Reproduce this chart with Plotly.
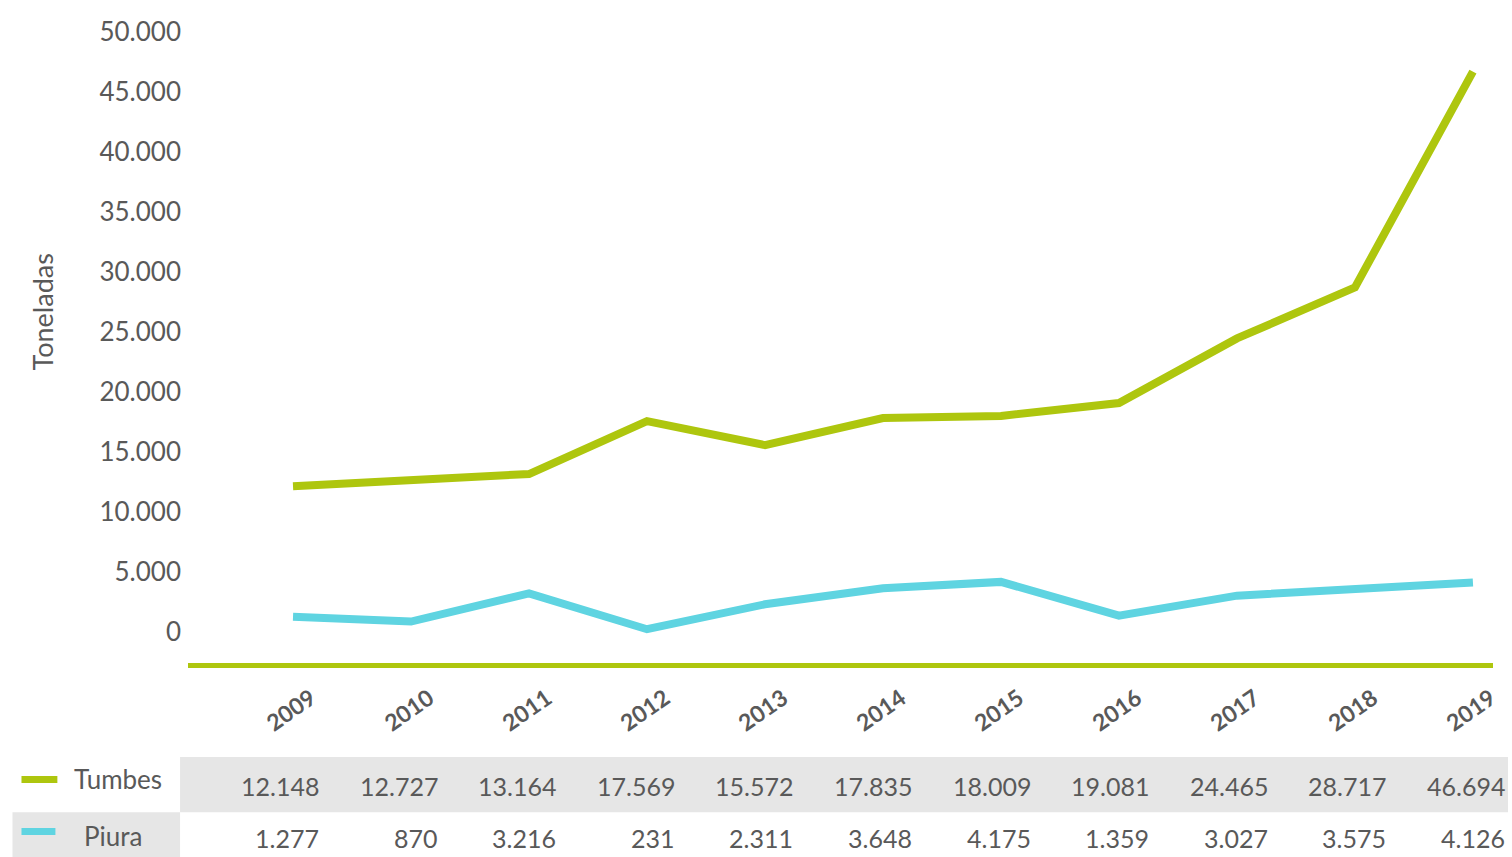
import plotly.graph_objects as go

years = ["2009", "2010", "2011", "2012", "2013", "2014", "2015", "2016", "2017", "2018", "2019"]
tumbes = [12148, 12727, 13164, 17569, 15572, 17835, 18009, 19081, 24465, 28717, 46694]
piura = [1277, 870, 3216, 231, 2311, 3648, 4175, 1359, 3027, 3575, 4126]
series_names = ["Tumbes", "Piura"]
y_ticks = [0, 5000, 10000, 15000, 20000, 25000, 30000, 35000, 40000, 45000, 50000]

GREEN = "#AEC60E"
CYAN = "#5FD4E1"
GRAY = "#595959"
CELL = "#E6E6E6"
FONT = "Lato"

xs = list(range(len(years)))

def fmt(v):
    return f"{v:,}".replace(",", ".")

fig = go.Figure()
fig.add_trace(go.Scatter(x=xs, y=tumbes, mode="lines", name=series_names[0],
                         line=dict(color=GREEN, width=8)))
fig.add_trace(go.Scatter(x=xs, y=piura, mode="lines", name=series_names[1],
                         line=dict(color=CYAN, width=8)))

# Data table backgrounds
fig.add_shape(type="rect", xref="paper", yref="paper", x0=-0.0061, x1=1.0115,
              y0=-0.232, y1=-0.146, fillcolor=CELL, line=dict(width=0), layer="below")
fig.add_shape(type="rect", xref="paper", yref="paper", x0=-0.1345, x1=-0.0061,
              y0=-0.302, y1=-0.232, fillcolor=CELL, line=dict(width=0), layer="below")
# Legend keys
fig.add_shape(type="rect", xref="paper", yref="paper", x0=-0.1276, x1=-0.1001,
              y0=-0.1866, y1=-0.1757, fillcolor=GREEN, line=dict(width=0))
fig.add_shape(type="rect", xref="paper", yref="paper", x0=-0.1276, x1=-0.1016,
              y0=-0.2675, y1=-0.2566, fillcolor=CYAN, line=dict(width=0))

annotations = [
    dict(text=series_names[0], xref="paper", yref="paper", x=-0.0535, y=-0.180,
         xanchor="center", yanchor="middle", showarrow=False,
         font=dict(family=FONT, size=26, color=GRAY)),
    dict(text=series_names[1], xref="paper", yref="paper", x=-0.0573, y=-0.2695,
         xanchor="center", yanchor="middle", showarrow=False,
         font=dict(family=FONT, size=26, color=GRAY)),
    dict(text="Toneladas", xref="paper", yref="paper", x=-0.1115, y=0.546,
         xanchor="center", yanchor="middle", showarrow=False, textangle=-90,
         font=dict(family=FONT, size=27, color=GRAY)),
]
for i in xs:
    annotations.append(dict(text=fmt(tumbes[i]), xref="x", yref="paper", x=i, y=-0.191,
                            xanchor="right", xshift=28 + 0.6 * i, yanchor="middle", showarrow=False,
                            font=dict(family=FONT, size=25, color=GRAY)))
    annotations.append(dict(text=fmt(piura[i]), xref="x", yref="paper", x=i, y=-0.272,
                            xanchor="right", xshift=28 + 0.6 * i, yanchor="middle", showarrow=False,
                            font=dict(family=FONT, size=25, color=GRAY)))

fig.update_layout(
    width=1512, height=857,
    margin=dict(l=188, r=15, t=20, b=194),
    paper_bgcolor="white", plot_bgcolor="white",
    showlegend=False,
    separators=",.",
    font=dict(family=FONT, color=GRAY),
    annotations=annotations,
    xaxis=dict(
        range=[-0.89, 10.17], tickvals=xs, ticktext=years, tickangle=-35,
        tickfont=dict(family=FONT, size=23, color=GRAY, weight="bold"),
        showline=True, linecolor=GREEN, linewidth=5, showgrid=False,
        zeroline=False, ticks="", ticklabelstandoff=8, ticklabelshift=18,
    ),
    yaxis=dict(
        range=[-2583, 51000], tickvals=y_ticks, tickformat=",d",
        tickfont=dict(family=FONT, size=26, color=GRAY),
        showgrid=False, zeroline=False, showline=False, ticks="",
        ticklabelstandoff=6,
    ),
)

fig.write_html("out.html", config={"displayModeBar": False},
               post_script="document.body.style.margin='0';document.body.style.overflow='hidden';")
